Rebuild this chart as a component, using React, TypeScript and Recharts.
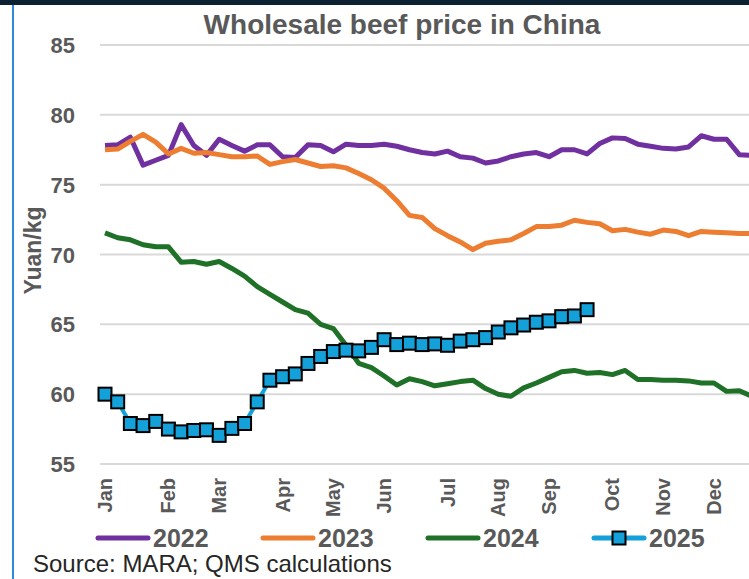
import { LineChart, Line, XAxis, YAxis, CartesianGrid } from 'recharts';

const months = ['Jan', 'Feb', 'Mar', 'Apr', 'May', 'Jun', 'Jul', 'Aug', 'Sep', 'Oct', 'Nov', 'Dec'];
const monthStartWeeks = [1, 6, 10, 15, 19, 23, 28, 32, 36, 41, 45, 49];
const yTicks = [55, 60, 65, 70, 75, 80, 85];

const price2022 = [
  77.8, 77.85, 78.4, 76.4, 76.75, 77.1, 79.3, 77.8, 77.1, 78.25, 77.8, 77.4, 77.85,
  77.85, 77.0, 76.95, 77.85, 77.8, 77.35, 77.9, 77.8, 77.8, 77.9, 77.75, 77.5, 77.3,
  77.2, 77.4, 77.0, 76.9, 76.55, 76.7, 77.0, 77.2, 77.3, 77.0, 77.5, 77.5, 77.2,
  77.95, 78.35, 78.3, 77.9, 77.75, 77.6, 77.55, 77.7, 78.5, 78.25, 78.25, 77.15, 77.1,
];
const price2023 = [
  77.5, 77.55, 78.1, 78.6, 78.05, 77.2, 77.6, 77.25, 77.3, 77.15, 77.0, 77.0, 77.05,
  76.45, 76.65, 76.8, 76.55, 76.3, 76.35, 76.2, 75.8, 75.35, 74.75, 73.85, 72.8, 72.65,
  71.85, 71.35, 70.9, 70.35, 70.8, 70.95, 71.05, 71.5, 72.0, 72.0, 72.1, 72.45, 72.3,
  72.2, 71.7, 71.8, 71.6, 71.45, 71.75, 71.65, 71.35, 71.65, 71.6, 71.55, 71.5, 71.5,
];
const price2024 = [
  71.55, 71.2, 71.05, 70.7, 70.55, 70.55, 69.45, 69.5, 69.3, 69.5, 69.0, 68.45, 67.7,
  67.15, 66.6, 66.05, 65.8, 65.0, 64.7, 63.5, 62.2, 61.9, 61.3, 60.65, 61.1, 60.9,
  60.6, 60.75, 60.9, 61.0, 60.4, 60.0, 59.85, 60.45, 60.8, 61.2, 61.6, 61.7, 61.5,
  61.55, 61.4, 61.7, 61.05, 61.05, 61.0, 61.0, 60.95, 60.8, 60.8, 60.2, 60.25, 59.85,
];
const price2025 = [
  60.0, 59.45, 57.9, 57.75, 58.05, 57.5, 57.3, 57.4, 57.45, 57.05, 57.55, 57.9, 59.45,
  61.0, 61.25, 61.45, 62.2, 62.7, 63.05, 63.15, 63.1, 63.35, 63.9, 63.55, 63.65, 63.55,
  63.6, 63.5, 63.8, 63.9, 64.05, 64.45, 64.75, 64.95, 65.15, 65.25, 65.55, 65.6, 66.05,
];

const weeks = price2022.map((_, i) => i + 1);
const data = weeks.map((week, i) => ({
  week,
  y2022: price2022[i],
  y2023: price2023[i],
  y2024: price2024[i],
  y2025: i < price2025.length ? price2025[i] : null,
}));

const GREY = '#595959';
const FONT = '"Liberation Sans", Arial, sans-serif';
const C2022 = '#7030A0';
const C2023 = '#ED7D31';
const C2024 = '#1E7126';
const C2025 = '#14A0D8';

const MonthTick = ({ x, y, payload }: any) => {
  const idx = monthStartWeeks.indexOf(payload.value);
  if (idx < 0) return <g />;
  const ty = y + 6;
  return (
    <text x={x} y={ty} dy={7} transform={`rotate(-90 ${x} ${ty})`} textAnchor="end"
      fontSize={20} fontWeight="bold" fill={GREY} fontFamily={FONT}>
      {months[idx]}
    </text>
  );
};

const ValueTick = ({ x, y, payload }: any) => (
  <text x={x - 17} y={y} dy={8} textAnchor="end" fontSize={22} fontWeight="bold" fill={GREY} fontFamily={FONT}>
    {payload.value}
  </text>
);

const SquareDot = (props: any) => {
  const { cx, cy, value, index } = props;
  if (value == null || cy == null) return <g key={`d${index}`} />;
  return (
    <rect key={`d${index}`} x={cx - 6.5} y={cy - 6.5} width={13} height={13}
      fill={C2025} stroke="#000" strokeWidth={2} />
  );
};

const legendItems = [
  { name: '2022', color: C2022, left: 95, marker: false },
  { name: '2023', color: C2023, left: 260, marker: false },
  { name: '2024', color: C2024, left: 425, marker: false },
  { name: '2025', color: C2025, left: 591, marker: true },
];

export default function App() {
  return (
    <div style={{ position: 'absolute', left: 0, top: 0, width: 749, height: 579, overflow: 'hidden', background: '#fff', fontFamily: FONT }}>
      <div style={{ position: 'absolute', left: 0, top: 0, width: 749, height: 5, background: '#0c2233' }} />
      <div style={{ position: 'absolute', left: 12, top: 5, width: 2, height: 574, background: '#2f8bd8' }} />
      <div style={{ position: 'absolute', left: 0, top: 11, width: 804, textAlign: 'center', fontSize: 28, fontWeight: 'bold', color: GREY, lineHeight: 1 }}>
        Wholesale beef price in China
      </div>

      <LineChart width={757} height={520} data={data} margin={{ top: 45, right: 0, bottom: 0, left: 0 }}>
        <CartesianGrid vertical={false} stroke="#d9d9d9" strokeWidth={2} />
        <XAxis dataKey="week" type="category" ticks={monthStartWeeks} interval={0}
          axisLine={false} tickLine={false} height={56} padding={{ left: 5, right: 5 }} tick={<MonthTick />} />
        <YAxis domain={[55, 85]} ticks={yTicks} axisLine={false} tickLine={false} width={100}
          tick={<ValueTick />}
          label={{
            content: ({ viewBox }: any) => {
              const cx = viewBox.x + 33;
              const cy = viewBox.y + viewBox.height / 2 - 4;
              return (
                <text x={cx} y={cy} transform={`rotate(-90 ${cx} ${cy})`} textAnchor="middle" dy={8}
                  fontSize={23} fontWeight="bold" fill={GREY} fontFamily={FONT}>
                  Yuan/kg
                </text>
              );
            },
          }} />
        <Line dataKey="y2022" stroke={C2022} strokeWidth={5} dot={false} isAnimationActive={false} strokeLinejoin="round" />
        <Line dataKey="y2023" stroke={C2023} strokeWidth={5} dot={false} isAnimationActive={false} strokeLinejoin="round" />
        <Line dataKey="y2024" stroke={C2024} strokeWidth={5} dot={false} isAnimationActive={false} strokeLinejoin="round" />
        <Line dataKey="y2025" stroke={C2025} strokeWidth={4} dot={<SquareDot />} activeDot={false}
          isAnimationActive={false} strokeLinejoin="round" />
      </LineChart>

      {legendItems.map((item) => (
        <div key={item.name}>
          <svg style={{ position: 'absolute', left: item.left, top: 530 }} width={56} height={16}>
            <line x1={3} y1={8} x2={53} y2={8} stroke={item.color} strokeWidth={5} strokeLinecap="round" />
            {item.marker && <rect x={21.5} y={1.5} width={13} height={13} fill={C2025} stroke="#000" strokeWidth={2} />}
          </svg>
          <div style={{ position: 'absolute', left: item.left + 58, top: 526, fontSize: 25, fontWeight: 'bold', color: GREY, lineHeight: 1 }}>
            {item.name}
          </div>
        </div>
      ))}

      <div style={{ position: 'absolute', left: 33, top: 552, fontSize: 24, color: '#262626', lineHeight: 1 }}>
        Source: MARA; QMS calculations
      </div>
    </div>
  );
}
